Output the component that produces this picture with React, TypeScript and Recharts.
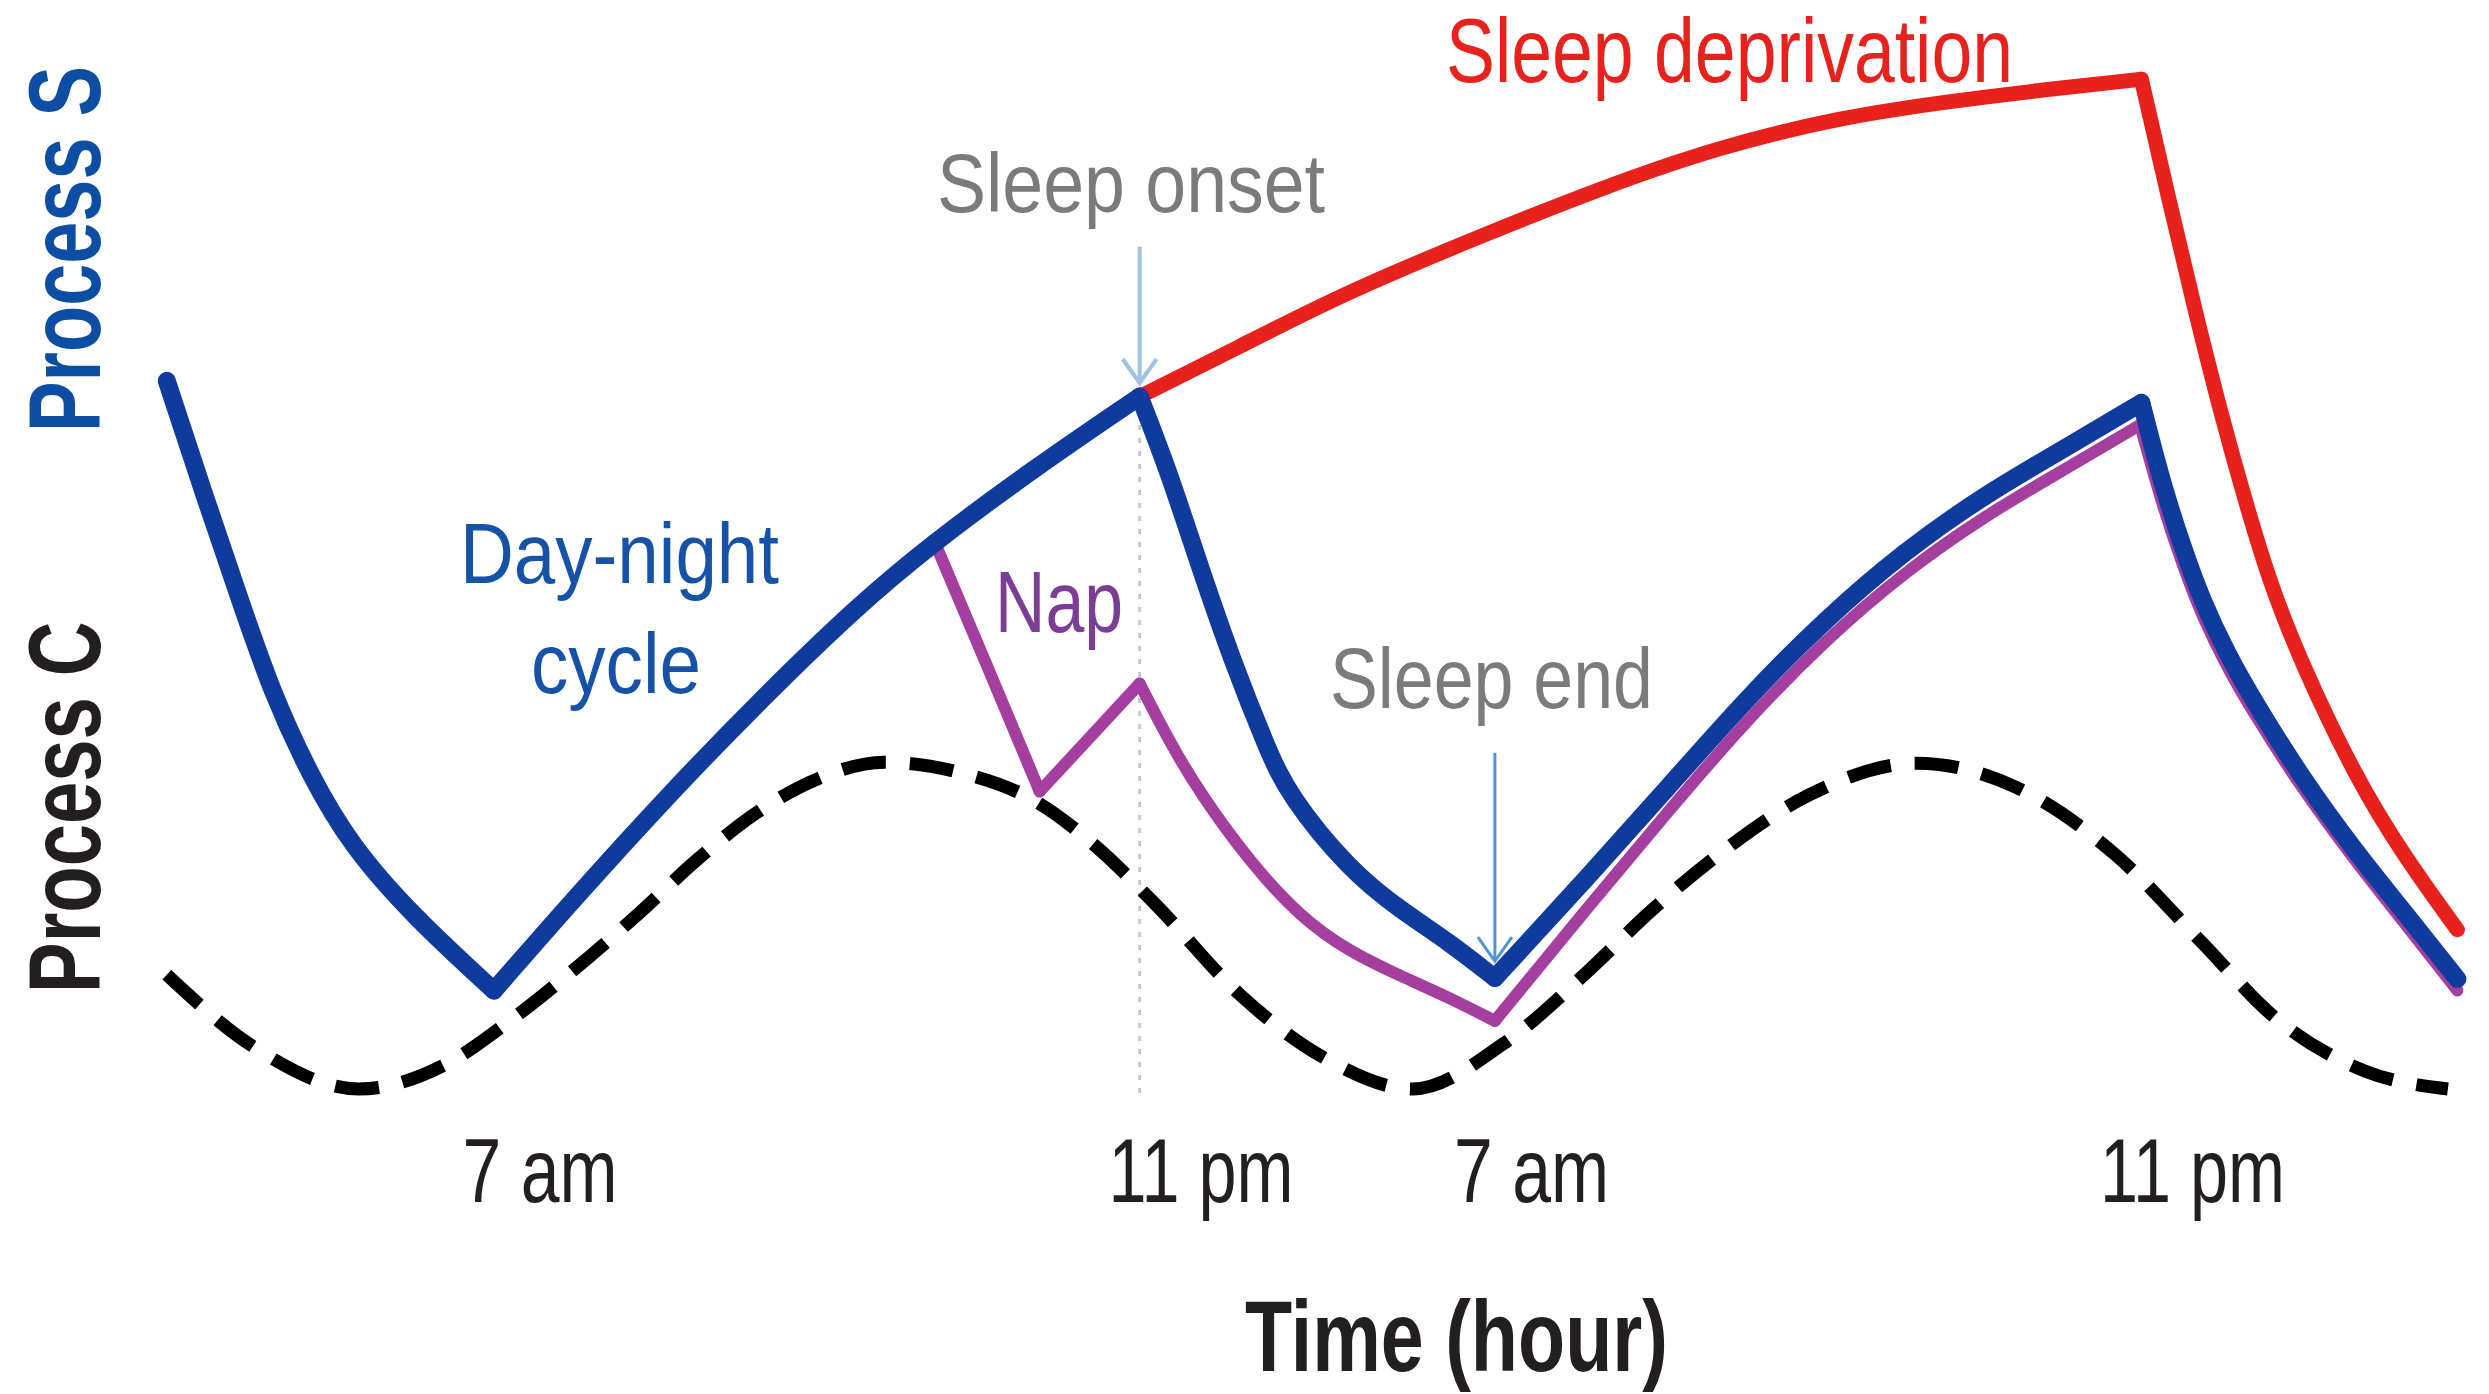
import React from 'react';
import { LineChart, Line, XAxis, YAxis, ReferenceLine } from 'recharts';

// [hour, level] pairs, one array per phase so corners stay sharp
const blueNight0 = [[-0.85, 69.7], [0.03, 59.1], [0.92, 48.8], [1.69, 40.0], [2.61, 32.1], [3.61, 25.3], [5.14, 18.5], [7.07, 11.5]];
const blueDay1 = [[7.07, 11.5], [8.95, 20.0], [11.25, 30.0], [13.56, 39.4], [15.87, 48.2], [17.59, 53.9], [20.09, 61.2], [22.7, 68.2]];
const blueNight1 = [[22.7, 68.2], [23.4, 61.1], [24.17, 51.8], [24.97, 42.7], [25.78, 34.7], [26.28, 30.3], [27.78, 23.0], [29.01, 19.2], [30.2, 16.1], [31.3, 12.7]];
const blueDay2 = [[31.3, 12.7], [33.54, 22.3], [35.47, 30.8], [37.39, 39.4], [39.31, 47.0], [41.23, 53.5], [43.15, 58.8], [45.07, 63.2], [46.95, 67.6]];
const blueNight2 = [[46.95, 67.6], [47.45, 59.9], [47.95, 53.8], [48.41, 48.8], [49.03, 43.6], [49.68, 39.1], [50.83, 31.8], [52.14, 24.7], [53.33, 18.9], [54.6, 12.6]];

const redWake = [[22.7, 68.2], [25.09, 72.9], [27.55, 77.9], [30.93, 83.5], [33.93, 88.2], [36.69, 92.0], [39.69, 94.9], [42.5, 96.5], [45.07, 97.7], [46.95, 98.5]];
const redSleep = [[46.95, 98.5], [47.61, 87.1], [48.26, 76.2], [48.92, 65.9], [49.49, 57.9], [50.07, 50.3], [50.83, 42.7], [52.14, 31.8], [53.33, 24.2], [54.6, 17.3]];

const napDown = [[17.75, 54.2], [19.02, 42.4], [20.28, 30.5]];
const napUp = [[20.28, 30.5], [22.7, 40.8]];
const napNight1 = [[22.7, 40.8], [23.47, 34.9], [24.17, 30.3], [25.36, 23.8], [26.59, 18.5], [27.78, 15.2], [29.01, 12.9], [30.16, 10.9], [31.3, 8.6]];
const napDay2 = [[31.3, 8.6], [33.54, 19.4], [35.47, 28.5], [37.39, 37.3], [39.31, 45.0], [41.23, 51.5], [43.15, 56.8], [45.07, 61.2], [46.92, 65.5]];
const napNight2 = [[46.92, 65.5], [47.45, 57.9], [47.95, 52.1], [48.41, 47.3], [49.03, 42.3], [49.68, 37.9], [50.83, 30.8], [52.14, 23.8], [53.33, 17.9], [54.6, 11.5]];

const processC = [
  [-0.85, 13.0], [1.26, 6.1], [3.8, 2.1], [5.87, 4.4], [7.45, 8.6], [8.95, 13.3], [10.56, 18.8], [12.02, 24.1],
  [13.44, 28.5], [14.9, 31.7], [16.52, 33.3], [18.36, 32.3], [20.21, 29.5], [21.63, 25.3], [23.09, 19.7],
  [25.13, 11.1], [27.2, 5.0], [29.31, 2.1], [31.5, 6.4], [33.54, 13.3], [35.08, 19.1], [36.69, 24.4],
  [38.92, 30.2], [41.5, 33.2], [43.92, 30.9], [46.34, 24.4], [48.34, 16.4], [50.22, 8.8], [52.37, 3.8], [54.37, 2.1],
];

const tickHours = [7, 23, 31, 47];
const tickLabels = ['7 am', '11 pm', '7 am', '11 pm'];

const processS = [blueNight0, blueDay1, blueNight1, blueDay2, blueNight2];
const deprivation = [redWake, redSleep];
const nap = [napDown, napUp, napNight1, napDay2, napNight2];

const toRows = (pts: number[][]) => pts.map(([t, v]) => ({ t, v }));

const FONT = '"Liberation Sans", Arial, sans-serif';
const DARK = '#231f20';

const renderTick = (props: any) => {
  const { x, y, payload } = props;
  const idx = tickHours.indexOf(payload.value);
  const label = tickLabels[idx] ?? '';
  return (
    <text x={x + 49} y={y + 91} textAnchor="middle" fontFamily={FONT} fontSize={90} fill={DARK}
      textLength={label.length > 4 ? 185 : 155} lengthAdjust="spacingAndGlyphs">
      {label}
    </text>
  );
};

const arrowShape = (color: string, w: number) => (props: any) => {
  const { x1, y1, x2, y2 } = props;
  return (
    <g>
      <line x1={x1} y1={y1} x2={x2} y2={y2} stroke={color} strokeWidth={w} />
      <polyline points={`${x2 - 17},${y2 - 24} ${x2},${y2} ${x2 + 17},${y2 - 24}`} fill="none" stroke={color} strokeWidth={w} />
    </g>
  );
};

const App: React.FC = () => {
  return (
    <div style={{ position: 'absolute', left: 0, top: 0, width: 2489, height: 1394, background: '#fff' }}>
      <LineChart width={2489} height={1394} margin={{ top: 63.5, right: 31.6, bottom: 163, left: 160.6 }}>
        <XAxis type="number" dataKey="t" domain={[-1, 54.6]} ticks={tickHours} tick={renderTick} interval={0}
          axisLine={false} tickLine={false} tickSize={0} tickMargin={0} height={120} />
        <YAxis type="number" domain={[0, 100]} hide />
        <ReferenceLine segment={[{ x: 22.7, y: 65.5 }, { x: 22.7, y: 1.5 }]} stroke="#c3c8d2" strokeWidth={3} strokeDasharray="5 8" />
        <ReferenceLine segment={[{ x: 22.7, y: 82.5 }, { x: 22.7, y: 69.5 }]} shape={arrowShape('#9ec3e6', 4)} />
        <ReferenceLine segment={[{ x: 31.3, y: 34.2 }, { x: 31.3, y: 14.3 }]} shape={arrowShape('#4f95d8', 3)} />
        {nap.map((seg, i) => (
          <Line key={'nap' + i} data={toRows(seg)} dataKey="v" type="basis" stroke="#a43fa0" strokeWidth={12}
            strokeLinecap="round" dot={false} activeDot={false} isAnimationActive={false} />
        ))}
        {deprivation.map((seg, i) => (
          <Line key={'red' + i} data={toRows(seg)} dataKey="v" type="basis" stroke="#e8211d" strokeWidth={15}
            strokeLinecap="round" dot={false} activeDot={false} isAnimationActive={false} />
        ))}
        {processS.map((seg, i) => (
          <Line key={'blue' + i} data={toRows(seg)} dataKey="v" type="basis" stroke="#0f3a9e" strokeWidth={18}
            strokeLinecap="round" dot={false} activeDot={false} isAnimationActive={false} />
        ))}
        <Line data={toRows(processC)} dataKey="v" type="monotone" stroke="#000" strokeWidth={13}
          strokeDasharray="44 24" dot={false} activeDot={false} isAnimationActive={false} />
      </LineChart>

      <svg width={2489} height={1394} style={{ position: 'absolute', left: 0, top: 0, pointerEvents: 'none' }} fontFamily={FONT}>
        {/* rotated axis titles, squeezed along the text direction to look condensed */}
        <text transform="translate(100,432) rotate(-90) scale(0.742,1)" fontSize={102} fontWeight="bold" fill="#0c4ea4">Process S</text>
        <text transform="translate(100,993) rotate(-90) scale(0.745,1)" fontSize={102} fontWeight="bold" fill={DARK}>Process C</text>
        <text x={1446} y={82} fontSize={91} fill="#e8211d" textLength={567} lengthAdjust="spacingAndGlyphs">Sleep deprivation</text>
        <text x={937} y={212} fontSize={84} fill="#7b7b7b" textLength={388} lengthAdjust="spacingAndGlyphs">Sleep onset</text>
        <text x={1330} y={708} fontSize={86} fill="#7b7b7b" textLength={323} lengthAdjust="spacingAndGlyphs">Sleep end</text>
        <text x={460} y={583} fontSize={85} fill="#1653a8" textLength={319} lengthAdjust="spacingAndGlyphs">Day-night</text>
        <text x={531} y={693} fontSize={85} fill="#1653a8" textLength={170} lengthAdjust="spacingAndGlyphs">cycle</text>
        <text x={995} y={632} fontSize={88} fill="#7c3d96" textLength={128} lengthAdjust="spacingAndGlyphs">Nap</text>
        <text x={1245} y={1371} fontSize={100} fontWeight="bold" fill={DARK} textLength={423} lengthAdjust="spacingAndGlyphs">Time (hour)</text>
      </svg>
    </div>
  );
};

export default App;
